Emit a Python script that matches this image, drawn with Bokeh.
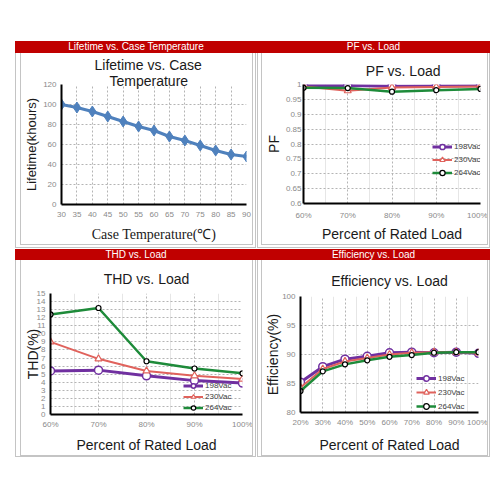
from bokeh.plotting import figure
from bokeh.models import (Legend, LegendItem, FixedTicker, NumeralTickFormatter,
                          PrintfTickFormatter, Div, Spacer, Range1d, Title)
from bokeh.layouts import column, row
from bokeh.embed import file_html
from bokeh.resources import INLINE

# ---------------- data ----------------
temp = [30, 35, 40, 45, 50, 55, 60, 65, 70, 75, 80, 85, 90]
lifetime = [100, 97, 93, 88, 83, 78, 74, 68, 64, 59, 54, 50, 48]

pf_load = [60, 70, 80, 90, 100]
pf_198 = [0.997, 0.997, 0.994, 0.995, 0.996]
pf_230 = [0.993, 0.979, 0.990, 0.992, 0.993]
pf_264 = [0.989, 0.988, 0.976, 0.981, 0.985]

thd_load = [60, 70, 80, 90, 100]
thd_198 = [5.4, 5.5, 4.8, 4.2, 3.9]
thd_230 = [9.0, 6.9, 5.4, 4.8, 4.4]
thd_264 = [12.4, 13.2, 6.6, 5.7, 5.1]

eff_load = [20, 30, 40, 50, 60, 70, 80, 90, 100]
eff_198 = [85.2, 87.9, 89.2, 89.7, 90.3, 90.4, 90.3, 90.4, 90.2]
eff_230 = [84.3, 87.5, 88.8, 89.4, 90.0, 90.3, 90.4, 90.4, 90.3]
eff_264 = [83.7, 87.1, 88.3, 89.0, 89.6, 89.9, 90.3, 90.4, 90.4]

series_names = ["198Vac", "230Vac", "264Vac"]

FONT = "Liberation Sans"
RED = "#C00000"
GRAY = "#c4c4c4"
C198 = "#7030A0"
C230 = "#E0625C"
C264 = "#1E8B3A"


def header(text, width, height):
    return Div(text=text, width=width, height=height, margin=0,
               styles={"background-color": RED, "color": "white",
                       "font-family": FONT, "font-size": "10px",
                       "line-height": f"{height}px", "text-align": "center",
                       "overflow": "hidden", "white-space": "nowrap"})


def line_box(w, h, color=GRAY):
    return Spacer(width=w, height=h, margin=0, styles={"background-color": color})


def gap(w, h):
    return Spacer(width=w, height=h, margin=0)


def panel(title, hh, fig, fw, fh, gl, gr, ex, gb):
    W = 1 + gl + 1 + fw + 1 + gr + 1 + ex
    inner = column(row(line_box(1, fh), fig, line_box(1, fh)), line_box(fw + 2, 1))
    parts = [line_box(1, fh + 1 + gb), gap(gl, fh + 1 + gb), inner,
             gap(gr, fh + 1 + gb), line_box(1, fh + 1 + gb)]
    if ex:
        parts.append(gap(ex, fh + 1 + gb))
    body = row(*parts)
    bottom_parts = [line_box(W - ex, 1)] + ([gap(ex, 1)] if ex else [])
    return column(header(title, W, hh), body, row(*bottom_parts))


def make_fig(width, height, borders, xr, yr, title, title_offset, title_standoff,
             title_align="center"):
    l, r, t, b = borders
    p = figure(width=width, height=height, x_range=Range1d(*xr), y_range=Range1d(*yr),
               output_backend="svg", toolbar_location=None,
               min_border_left=l, min_border_right=r, min_border_top=t, min_border_bottom=b)
    p.outline_line_color = None
    p.background_fill_color = "white"
    p.border_fill_color = "white"
    p.title.text = title
    p.title.align = title_align
    p.title.text_font = FONT
    p.title.text_font_size = "14px"
    p.title.text_font_style = "normal"
    p.title.text_color = "#1a1a1a"
    p.title.offset = title_offset
    p.title.standoff = title_standoff
    for ax in (p.xaxis[0], p.yaxis[0]):
        ax.axis_line_width = 2
        ax.axis_line_color = "black"
        ax.major_tick_line_color = None
        ax.minor_tick_line_color = None
        ax.major_tick_out = 0
        ax.major_tick_in = 0
        ax.major_label_text_font = FONT
        ax.major_label_text_font_size = "8px"
        ax.major_label_text_color = "#8a8a8a"
        ax.major_label_text_line_height = 1.0
        ax.axis_label_text_font = FONT
        ax.axis_label_text_font_style = "normal"
        ax.axis_label_text_font_size = "14px"
        ax.axis_label_text_color = "#1a1a1a"
        ax.axis_label_text_line_height = 1.0
    for g in (p.xgrid[0], p.ygrid[0]):
        g.grid_line_color = "#b4b4b4"
        g.grid_line_dash = "2 2"
        g.grid_line_width = 1
    return p


def style_legend(p, items, loc, row_h):
    leg = Legend(items=items, location=loc, border_line_color=None,
                 background_fill_alpha=0, padding=0, margin=0, spacing=0,
                 label_text_font=FONT, label_text_font_size="8px",
                 label_text_color="#404040", glyph_width=20, glyph_height=row_h,
                 label_height=row_h, label_standoff=2)
    p.add_layout(leg)


def three_series(p, x, ys):
    y198, y230, y264 = ys
    l1 = p.line(x, y198, line_color=C198, line_width=3)
    s1 = p.scatter(x, y198, marker="circle", size=8, fill_color="white",
                   line_color=C198, line_width=1.5)
    l2 = p.line(x, y230, line_color=C230, line_width=2)
    s2 = p.scatter(x, y230, marker="triangle", size=7, fill_color="white",
                   line_color=C230, line_width=1.2)
    l3 = p.line(x, y264, line_color=C264, line_width=2.5)
    s3 = p.scatter(x, y264, marker="circle", size=5, fill_color="white",
                   line_color="black", line_width=1.2)
    return [LegendItem(label=series_names[0], renderers=[l1, s1]),
            LegendItem(label=series_names[1], renderers=[l2, s2]),
            LegendItem(label=series_names[2], renderers=[l3, s3])]


# ---------------- Lifetime ----------------
p1 = make_fig(231, 191, (37, 6, 31, 40), (30, 90), (0, 120),
              "Lifetime vs. Case", 33, 2, title_align="left")
p1.title.vertical_align = "top"
p1.add_layout(Title(text="Temperature", align="left", offset=48, standoff=-9,
                    text_font=FONT, text_font_size="14px", text_font_style="normal",
                    text_color="#1a1a1a"), "above")
p1.xaxis.ticker = FixedTicker(ticks=temp)
p1.yaxis.ticker = FixedTicker(ticks=[0, 20, 40, 60, 80, 100, 120])
p1.xaxis.axis_label = "Case Temperature(\u2103)"
p1.xaxis.axis_label_text_font = "Liberation Serif"
p1.yaxis.axis_label = "Lifetime(khours)"
p1.yaxis.axis_label_text_font_size = "13px"
p1.xaxis.major_label_standoff = 7
p1.yaxis.major_label_standoff = 5
p1.yaxis.axis_label_standoff = 1
p1.xaxis.axis_label_standoff = 7
p1.line(temp, lifetime, line_color="#4F81BD", line_width=3)
p1.scatter(temp, lifetime, marker="diamond", size=11, fill_color="#4F81BD",
           line_color="#4F81BD")

# ---------------- PF ----------------
p2 = make_fig(225, 191, (36, 7, 31, 41), (60, 100), (0.6, 1.0),
              "PF vs. Load", 40, 11, title_align="right")
p2.xaxis.ticker = FixedTicker(ticks=pf_load, minor_ticks=[65, 75, 85, 95])
p2.yaxis.ticker = FixedTicker(ticks=[0.6, 0.65, 0.7, 0.75, 0.8, 0.85, 0.9, 0.95, 1.0])
p2.yaxis.formatter = NumeralTickFormatter(format="0.[00]")
p2.xaxis.formatter = PrintfTickFormatter(format="%d%%")
p2.xgrid.minor_grid_line_color = "#e6e6e6"
p2.xaxis.axis_label = "Percent of Rated Load"
p2.yaxis.axis_label = "PF"
p2.yaxis.major_label_standoff = 2
p2.yaxis.axis_label_standoff = 1
p2.xaxis.major_label_standoff = 3
p2.xaxis.axis_label_standoff = 3
items2 = three_series(p2, pf_load, (pf_198, pf_230, pf_264))
style_legend(p2, items2, (129, 24), 13)

# ---------------- THD ----------------
p3 = make_fig(231, 195, (29, 10, 33, 41), (60, 100), (0, 15),
              "THD vs. Load", 0, 13)
p3.xaxis.ticker = FixedTicker(ticks=thd_load, minor_ticks=[65, 75, 85, 95])
p3.yaxis.ticker = FixedTicker(ticks=list(range(0, 16)))
p3.xaxis.formatter = PrintfTickFormatter(format="%d%%")
p3.xgrid.minor_grid_line_color = "#e6e6e6"
p3.xaxis.axis_label = "Percent of Rated Load"
p3.yaxis.axis_label = "THD(%)"
p3.yaxis.major_label_standoff = 5
p3.yaxis.axis_label_standoff = -7
p3.xaxis.major_label_standoff = 1
p3.xaxis.axis_label_standoff = 5
items3 = three_series(p3, thd_load, (thd_198, thd_230, thd_264))
style_legend(p3, items3, (133, 1), 11)

# ---------------- Efficiency ----------------
p4 = make_fig(225, 195, (36, 9, 36, 42), (20, 100), (80, 100),
              "Efficiency vs. Load", 0, 15)
p4.xaxis.ticker = FixedTicker(ticks=eff_load, minor_ticks=[25, 35, 45, 55, 65, 75, 85, 95])
p4.yaxis.ticker = FixedTicker(ticks=[80, 85, 90, 95, 100])
p4.xaxis.formatter = PrintfTickFormatter(format="%d%%")
p4.xgrid.minor_grid_line_color = "#e6e6e6"
p4.xaxis.axis_label = "Percent of Rated Load"
p4.yaxis.axis_label = "Efficiency(%)"
p4.yaxis.major_label_standoff = 5
p4.yaxis.axis_label_standoff = -2
p4.xaxis.major_label_standoff = 1
p4.xaxis.axis_label_standoff = 7
items4 = three_series(p4, eff_load, (eff_198, eff_230, eff_264))
style_legend(p4, items4, (116, -1), 14)

# ---------------- layout ----------------
# left panels: x 15..257, right panels: x 257..490
tl = panel("Lifetime vs. Case Temperature", 12, p1, 231, 191, 4, 2, 1, 2)
tr = panel("PF vs. Load", 12, p2, 225, 191, 3, 1, 0, 2)
bl = panel("THD vs. Load", 11, p3, 231, 195, 4, 2, 1, 0)
br = panel("Efficiency vs. Load", 11, p4, 225, 195, 3, 1, 0, 0)

top = row(gap(15, 10), tl, tr)
bottom = row(gap(15, 10), bl, br)
layout = column(gap(490, 41), top, gap(490, 1), bottom)

open("out.html", "w").write(file_html(layout, INLINE))
